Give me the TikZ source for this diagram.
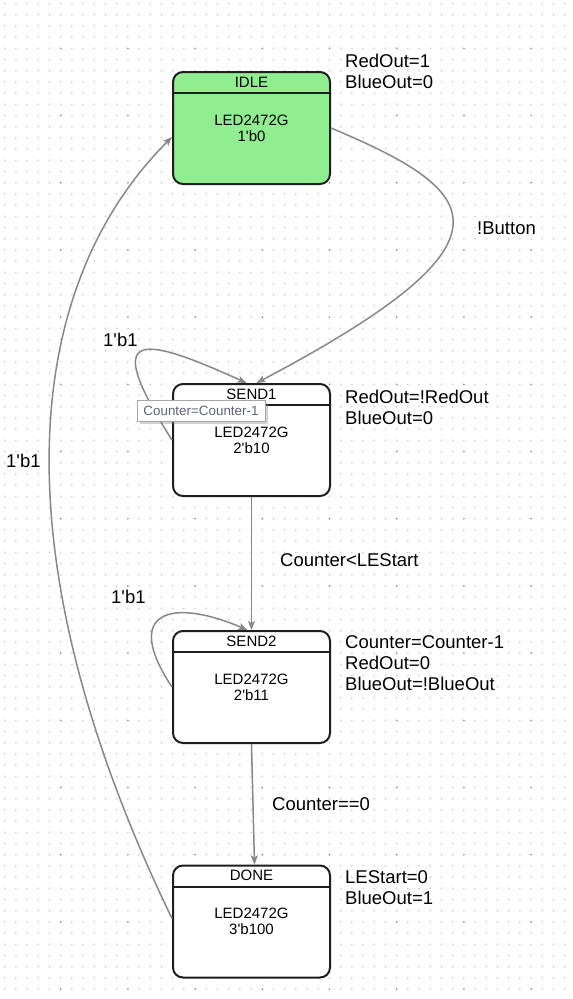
\documentclass[tikz,border=0pt]{standalone}
\usepackage{fontspec}
\setmainfont{Liberation Sans}
\usetikzlibrary{arrows.meta,shadows}
\definecolor{idlegreen}{RGB}{144,238,144}
\definecolor{edgec}{RGB}{136,136,136}
\definecolor{boxc}{RGB}{30,30,30}
\definecolor{minordot}{RGB}{195,195,195}
\definecolor{majordot}{RGB}{135,135,135}
\definecolor{tipc}{RGB}{95,100,125}
\newcommand\sq{\textquotesingle}
\begin{document}
\begin{tikzpicture}[x=1pt,y=-1pt,
  state/.style={draw=boxc, line width=2pt, rounded corners=10pt, fill=white,
    minimum width=157pt, minimum height=112pt, inner sep=0pt, align=center,
    font=\fontsize{15}{16}\selectfont},
  headtxt/.style={inner sep=0pt, font=\fontsize{15}{16}\selectfont},
  headline/.style={draw=boxc, line width=2pt},
  side/.style={anchor=west, inner sep=0pt, align=left, font=\fontsize{18.5}{21}\selectfont},
  elabel/.style={anchor=west, inner sep=0pt, font=\fontsize{18.5}{21}\selectfont},
  trans/.style={draw=edgec, line width=1.5pt, -{Stealth[length=9pt,width=7pt,inset=2pt]}},
  tipbox/.style={draw=black!35, line width=0.8pt, fill=white, minimum width=128pt,
    minimum height=21pt, inner sep=0pt, text=tipc, font=\fontsize{13.4}{14}\selectfont,
    drop shadow={shadow xshift=2.5pt, shadow yshift=-2.5pt, opacity=0.35}},
  dotcol/.style={line width=1.7pt, line cap=round}
]
\useasboundingbox (0,0) rectangle (573,999);
\fill[white] (0,0) rectangle (573,999);
% dotted grid
\foreach \i in {0,...,51}{
  \draw[dotcol, minordot, dash pattern=on 0pt off 11.2pt] (4.7+11.2*\i,3.5) -- (4.7+11.2*\i,999);
}
\foreach \i in {0,...,8}{
  \draw[dotcol, majordot, dash pattern=on 0pt off 67.2pt] (60.7+67.2*\i,48.3) -- (60.7+67.2*\i,999);
}

% states
\node[state, fill=idlegreen] (idle) at (251.5,128) {LED2472G\\1\sq b0};
\node[state] (send1) at (251.5,440) {LED2472G\\2\sq b10};
\node[state] (send2) at (251.5,687) {LED2472G\\2\sq b11};
\node[state] (done) at (251.5,921.5) {LED2472G\\3\sq b100};

\foreach \s/\t in {idle/IDLE,send1/SEND1,send2/SEND2,done/DONE}{
  \draw[headline] ([yshift=-22pt]\s.north west) -- ([yshift=-22pt]\s.north east);
  \node[headtxt] (\s-h) at ([yshift=-11pt]\s.north) {\t};
}

% state outputs
\node[side] (idle-out) at (345,71) {RedOut=1\\BlueOut=0};
\node[side] (send1-out) at (345,407) {RedOut=!RedOut\\BlueOut=0};
\node[side] (send2-out) at (345,663) {Counter=Counter-1\\RedOut=0\\BlueOut=!BlueOut};
\node[side] (done-out) at (345,887.5) {LEStart=0\\BlueOut=1};

% transitions
\draw[trans] (idle.east) .. controls +(150,63) and +(273,-144) .. ([xshift=5pt]send1.north);
\draw[trans] (send1.west) .. controls +(-70,-110) and +(-110,-50) .. ([xshift=-5pt]send1.north);
\draw[trans] (send1.south) -- (send2.north);
\draw[trans] (send2.west) .. controls +(-50,-75) and +(-77.5,-33) .. ([xshift=-4pt]send2.north);
\draw[trans] (send2.south) -- ([xshift=3pt]done.north);
\draw[trans] ([yshift=3pt]done.west) .. controls +(-173,-358) and +(-153,153) .. ([yshift=-9pt]idle.west);

% transition labels
\node[elabel] (l-button) at (477,228) {!Button};
\node[elabel] (l-s1loop) at (103,340) {1\sq b1};
\node[elabel] (l-s1s2) at (280,560) {Counter<LEStart};
\node[elabel] (l-s2loop) at (111,597) {1\sq b1};
\node[elabel] (l-s2done) at (272,804) {Counter==0};
\node[elabel] (l-done) at (6,461) {1\sq b1};

% tooltip
\node[tipbox] (tooltip) at (201,410.5) {Counter=Counter-1};
\end{tikzpicture}
\end{document}
